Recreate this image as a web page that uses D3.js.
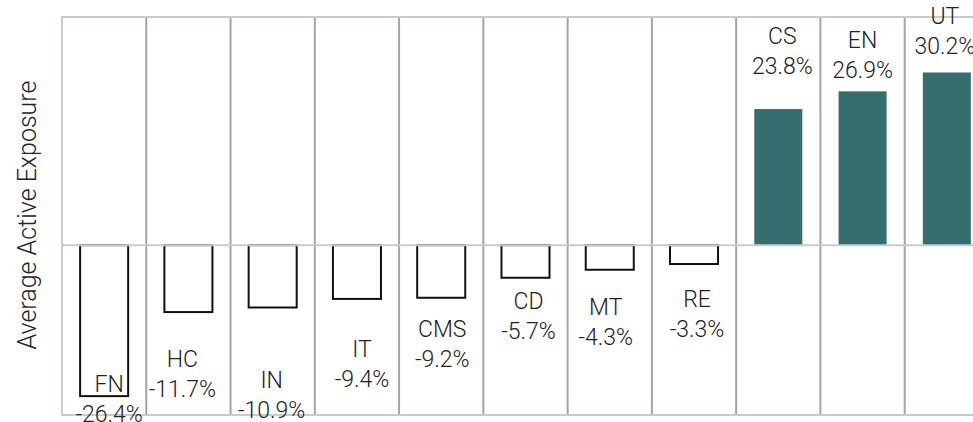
<!DOCTYPE html>
<html>
<head>
<meta charset="utf-8">
<script src="https://cdn.jsdelivr.net/npm/d3@7"></script>
<style>
body { margin: 0; background: #fff; }
svg { display: block; overflow: hidden; }
text { font-family: Roboto, "Noto Sans", sans-serif; font-weight: 300; fill: #222; }
</style>
</head>
<body>
<script>
// sectors and their average active exposure (%)
var sectors = ["FN", "HC", "IN", "IT", "CMS", "CD", "MT", "RE", "CS", "EN", "UT"];
var exposure = [-26.4, -11.7, -10.9, -9.4, -9.2, -5.7, -4.3, -3.3, 23.8, 26.9, 30.2];

// label nudges (px): dx from band centre, dy of the name line from the bar end
var labelDx = [5, -6, -1, 5, 1, 3, -4, 3, 4, 0, -2];
var labelDy = [-4, 55, 81, 58, 39, 31, 45, 43, -65, -43, -48];

var width = 973, height = 422;
var plotLeft = 62, plotTop = 17, plotBottom = 415;
var step = 84.27;

var svg = d3.select("body").append("svg")
    .attr("width", width)
    .attr("height", height);

var x = d3.scaleBand()
    .domain(sectors)
    .range([plotLeft, plotLeft + step * sectors.length])
    .paddingInner(0.43)
    .paddingOuter(0.215);

var y = d3.scaleLinear()
    .domain([-29.7, 39.9])
    .range([plotBottom, plotTop]);

var grid = svg.append("g").attr("class", "grid");

// vertical separators between sectors
grid.selectAll("line.v")
    .data(d3.range(1, sectors.length + 1))
    .enter().append("line")
    .attr("class", "v")
    .attr("x1", function (i) { return plotLeft + i * x.step(); })
    .attr("x2", function (i) { return plotLeft + i * x.step(); })
    .attr("y1", plotTop)
    .attr("y2", plotBottom)
    .attr("stroke", "#a3a6a6")
    .attr("stroke-width", 2);

grid.append("line")
    .attr("x1", plotLeft).attr("x2", plotLeft)
    .attr("y1", plotTop - 1).attr("y2", plotBottom + 1)
    .attr("stroke", "#c3ced1")
    .attr("stroke-width", 2);

grid.selectAll("line.h")
    .data([plotTop, plotBottom])
    .enter().append("line")
    .attr("class", "h")
    .attr("x1", plotLeft)
    .attr("x2", width)
    .attr("y1", function (d) { return d; })
    .attr("y2", function (d) { return d; })
    .attr("stroke", "#c3ced1")
    .attr("stroke-width", 2);

var data = sectors.map(function (s, i) {
    return { name: s, value: exposure[i], dx: labelDx[i], dy: labelDy[i] };
});

svg.append("g")
    .selectAll("rect")
    .data(data)
    .enter().append("rect")
    .attr("x", function (d) { return x(d.name); })
    .attr("width", x.bandwidth())
    .attr("y", function (d) { return y(Math.max(0, d.value)); })
    .attr("height", function (d) { return Math.abs(y(d.value) - y(0)); })
    .attr("fill", function (d) { return d.value < 0 ? "#fff" : "#356e6f"; })
    .attr("stroke", function (d) { return d.value < 0 ? "#111" : "none"; })
    .attr("stroke-width", 2);

// zero line sits over the bars
svg.append("line")
    .attr("x1", plotLeft)
    .attr("x2", width)
    .attr("y1", y(0))
    .attr("y2", y(0))
    .attr("stroke", "#c3ced1")
    .attr("stroke-width", 2);

var labels = svg.append("g")
    .selectAll("text")
    .data(data)
    .enter().append("text")
    .attr("text-anchor", "middle")
    .style("font-size", "23px")
    .attr("transform", function (d) {
        var cx = x(d.name) + x.bandwidth() / 2 + d.dx;
        return "translate(" + cx + "," + (y(d.value) + d.dy) + ")";
    });

labels.append("tspan")
    .attr("x", 0)
    .attr("y", 0)
    .text(function (d) { return d.name; });

labels.append("tspan")
    .attr("x", 0)
    .attr("y", 30)
    .text(function (d) { return d.value.toFixed(1) + "%"; });

svg.append("text")
    .attr("transform", "translate(36,215) rotate(-90)")
    .attr("text-anchor", "middle")
    .style("font-size", "25px")
    .text("Average Active Exposure");
</script>
</body>
</html>
